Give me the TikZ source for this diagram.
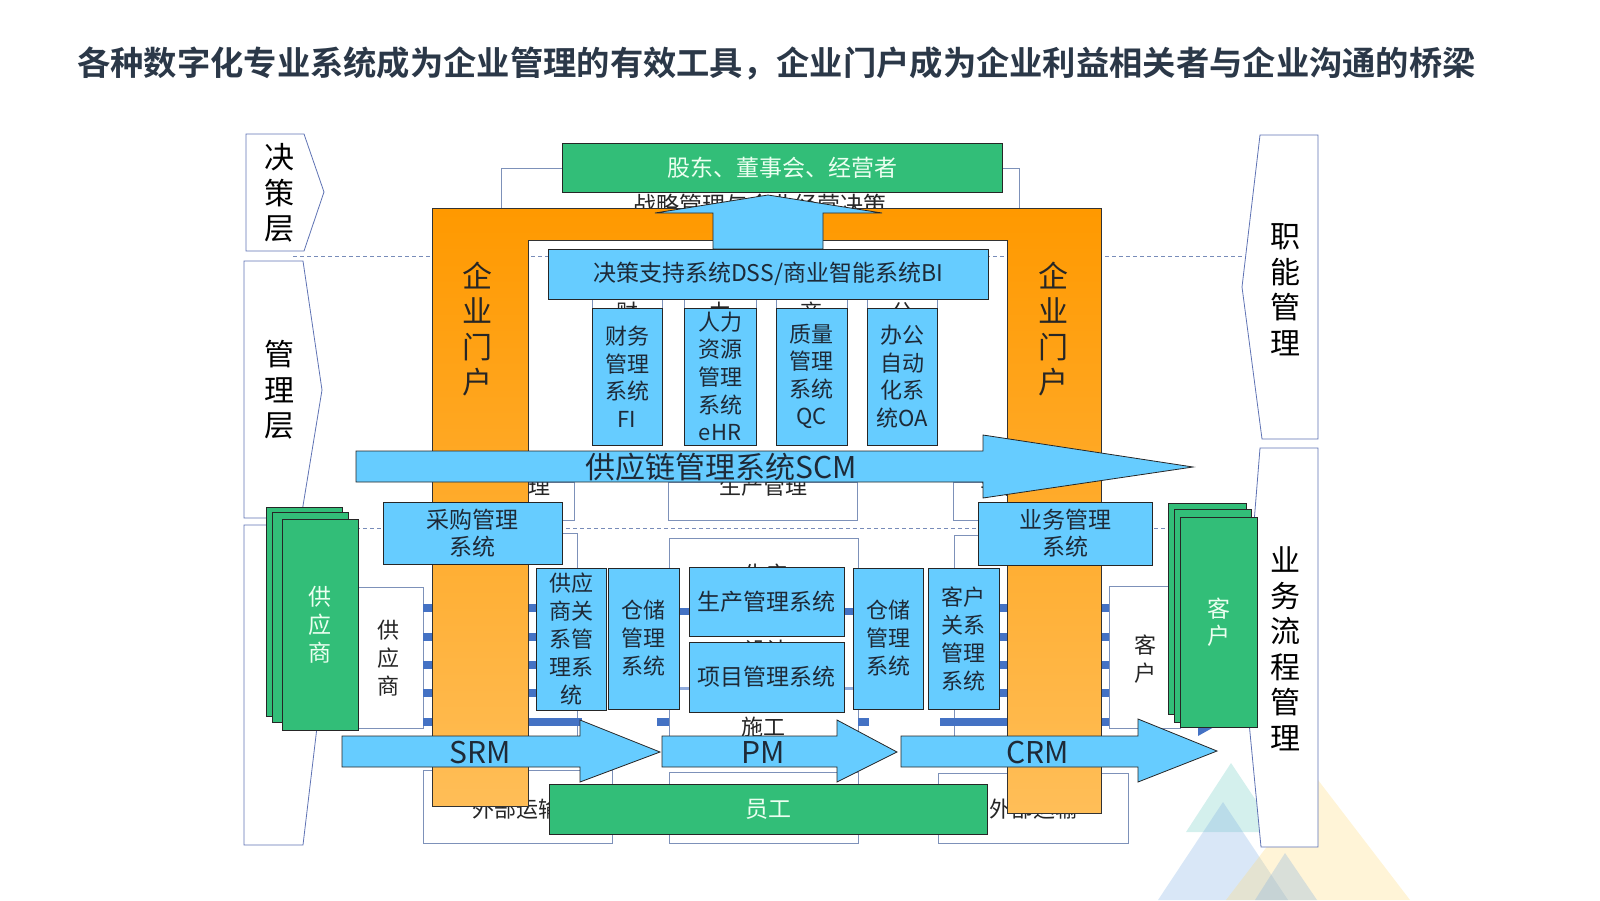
\documentclass[tikz,border=0pt]{standalone}
\usepackage{fontspec}
\setmainfont{Noto Sans CJK SC}
\newfontfamily\titlefont{Noto Sans CJK SC Bold}
\newcommand\fsz[2]{\fontsize{#1}{#2}\selectfont}
\definecolor{sysblue}{RGB}{102,204,255}
\definecolor{grn}{RGB}{50,190,120}
\definecolor{grntext}{RGB}{235,255,240}
\definecolor{txtdark}{RGB}{30,42,56}
\definecolor{bgline}{RGB}{125,145,185}
\definecolor{pentline}{RGB}{95,115,180}
\definecolor{dashc}{RGB}{120,140,185}
\definecolor{markblue}{RGB}{68,114,196}
\definecolor{marklight}{RGB}{143,170,220}
\definecolor{orgtop}{RGB}{255,153,0}
\definecolor{orgbot}{RGB}{255,190,88}
\definecolor{titlec}{RGB}{43,56,72}
\definecolor{tritealc}{RGB}{100,200,190}
\definecolor{tribluec}{RGB}{120,170,225}
\definecolor{triyelc}{RGB}{255,215,110}
\begin{document}
\begin{tikzpicture}[x=1pt,y=-1pt,
  sysbox/.style={draw=black!85, line width=0.8pt, fill=sysblue, inner sep=0pt, outer sep=0pt, align=center, text=txtdark, font=\fsz{22}{28}},
  grnbox/.style={draw=black!85, line width=0.8pt, fill=grn, inner sep=0pt, outer sep=0pt, align=center, text=grntext, font=\fsz{23}{28}},
  bgbox/.style={draw=bgline, line width=0.7pt, fill=white},
  pent/.style={draw=pentline, line width=0.8pt, fill=white},
  barrow/.style={draw=black!85, line width=0.8pt, fill=sysblue},
  dashline/.style={draw=dashc, line width=0.7pt, dash pattern=on 4pt off 3pt},
  bluemark/.style={fill=markblue},
  sidelbl/.style={inner sep=0pt, align=center, text=black, font=\fsz{30}{35.5}},
  bgtxt/.style={inner sep=0pt, align=center, text=black!85, font=\fsz{22}{28}},
  arrtxt/.style={inner sep=0pt, text=txtdark, font=\fsz{30}{34}}
]
\useasboundingbox (0,0) rectangle (1600,900);

% decorative triangles
\fill[tritealc, opacity=0.28] (1231,763) -- (1277,832) -- (1186,832) -- cycle;
\fill[tribluec, opacity=0.28] (1223,802) -- (1288,900) -- (1158,900) -- cycle;
\fill[triyelc, opacity=0.28] (1318,780) -- (1410,900) -- (1226,900) -- cycle;
\fill[tribluec, opacity=0.28] (1285,853) -- (1317,900) -- (1255,900) -- cycle;

% title
\node[anchor=west, inner sep=0pt, text=titlec, font=\titlefont\fsz{33.3}{40}] (title) at (77,63)
  {各种数字化专业系统成为企业管理的有效工具，企业门户成为企业利益相关者与企业沟通的桥梁};

% side pentagons
\draw[pent] (246,134) -- (304,134) -- (324,192) -- (304,251) -- (246,251) -- cycle;
\draw[pent] (244,261) -- (303,261) -- (322,390) -- (301,518) -- (244,518) -- cycle;
\draw[pent] (244,525) -- (303,525) -- (322,685) -- (303,845) -- (244,845) -- cycle;
\draw[pent] (1260,135) -- (1318,135) -- (1318,439) -- (1262,439) -- (1242,287) -- cycle;
\draw[pent] (1260,448) -- (1318,448) -- (1318,847) -- (1261,847) -- (1243,660) -- cycle;
\node[sidelbl] (jcc) at (279,193) {决\\策\\层};
\node[sidelbl] (glc) at (279,390) {管\\理\\层};
\node[sidelbl] (znc) at (1285,290) {职\\能\\管\\理};
\node[sidelbl] (ywc) at (1285,649) {业\\务\\流\\程\\管\\理};

% dashed layer lines
\draw[dashline] (293,256) -- (1243,256);
\draw[dashline] (300,528) -- (1250,528);

% background boxes
\draw[bgbox] (501,168) rectangle (1019,235);
\node[bgtxt, font=\fsz{23}{28}] (zl) at (760,205) {战略管理与企业经营决策};
\draw[bgbox] (592,285) rectangle (662,440);
\draw[bgbox] (684,285) rectangle (756,440);
\draw[bgbox] (776,285) rectangle (847,440);
\draw[bgbox] (867,285) rectangle (937,440);
\node[bgtxt] (bg1) at (627,312) {财};
\node[bgtxt] (bg2) at (720,312) {力};
\node[bgtxt] (bg3) at (811,312) {商};
\node[bgtxt] (bg4) at (902,312) {公};

\draw[bgbox] (445,482) rectangle (574,520);
\draw[bgbox] (668,482) rectangle (857,520);
\draw[bgbox] (953,482) rectangle (1090,520);
\node[bgtxt] (cg) at (506,486) {采购管理};
\node[bgtxt] (scg) at (763,486) {生产管理};
\node[bgtxt] (xsg) at (1024,486) {销售管理};

\draw[bgbox] (450,533) rectangle (577,760);
\draw[bgbox] (669,538) rectangle (858,760);
\draw[bgbox] (954,535) rectangle (1095,760);
\node[bgtxt] (sc2) at (766,574) {生产};
\node[bgtxt] (sj) at (766,650) {设计};
\node[bgtxt] (sg) at (763,727) {施工};

\draw[bgbox] (423,770) rectangle (612,843);
\draw[bgbox] (669,772) rectangle (858,843);
\draw[bgbox] (938,773) rectangle (1128,843);
\node[bgtxt] (wb1) at (516,809) {外部运输};
\node[bgtxt] (wb2) at (1033,809) {外部运输};

% white supplier / customer boxes
\draw[bgbox] (358,587) rectangle (423,728);
\node[bgtxt] (gysw) at (388,658) {供\\应\\商};
\draw[bgbox] (1109,586) rectangle (1180,728);
\node[bgtxt] (khw) at (1145,659) {客\\户};

% thick blue marks
\foreach \yy in {608,637,665,693,722} {
  \fill[bluemark] (423,\yy-4) rectangle (432,\yy+4);
  \fill[bluemark] (528,\yy-4) rectangle (536,\yy+4);
  \fill[bluemark] (1100,\yy-4) rectangle (1109,\yy+4);
}
\foreach \yy in {608,637,665,693} {
  \fill[bluemark] (999,\yy-4) rectangle (1007,\yy+4);
}
\fill[bluemark] (528,718) rectangle (582,726);
\fill[bluemark] (657,718) rectangle (669,726);
\fill[bluemark] (858,718) rectangle (869,726);
\fill[bluemark] (940,718) rectangle (1007,726);
\fill[bluemark] (680,608) rectangle (689,615);
\fill[bluemark] (844,608) rectangle (853,615);
\fill[marklight] (680,687) rectangle (689,690);
\fill[marklight] (844,687) rectangle (853,690);
\fill[bluemark] (1198,727) -- (1214,727) -- (1198,736) -- cycle;

% orange portal frame
\shade[top color=orgtop, bottom color=orgbot, draw=black!80, line width=0.8pt]
  (432,208) -- (1101,208) -- (1101,813) -- (1007,813) -- (1007,240) -- (528,240)
  -- (528,806) -- (432,806) -- cycle;
\node[sidelbl, text=black!85] (mh1) at (477,329) {企\\业\\门\\户};
\node[sidelbl, text=black!85] (mh2) at (1053,329) {企\\业\\门\\户};

% top green box
\node[grnbox, minimum width=440pt, minimum height=49pt] (gd) at (782,167.5) {股东、董事会、经营者};

% up arrow
\draw[barrow] (713,249) -- (713,213) -- (655,213) -- (768,195) -- (882,213) -- (823,213) -- (823,249) -- cycle;

% DSS
\node[sysbox, font=\fsz{23}{28}, minimum width=440pt, minimum height=50pt] (dss) at (768,274) {决策支持系统DSS/商业智能系统BI};

% functional systems
\node[sysbox, minimum width=70pt, minimum height=137pt, font=\fsz{22}{27.5}] (fi) at (627,376.5) {财务\\管理\\系统\\FI};
\node[sysbox, minimum width=72pt, minimum height=137pt, font=\fsz{22}{27.7}] (ehr) at (720,376.5) {人力\\资源\\管理\\系统\\eHR};
\node[sysbox, minimum width=71pt, minimum height=137pt, font=\fsz{22}{27.5}] (qc) at (811.5,376.5) {质量\\管理\\系统\\QC};
\node[sysbox, minimum width=70pt, minimum height=137pt, font=\fsz{22}{27.5}] (oa) at (902,376.5) {办公\\自动\\化系\\统OA};

% SCM arrow
\draw[barrow] (356,451) -- (983,451) -- (983,435) -- (1193,467) -- (983,498) -- (983,482) -- (356,482) -- cycle;
\node[arrtxt] (scm) at (721,467) {供应链管理系统SCM};

% purchase / business management
\node[sysbox, font=\fsz{23}{27}, minimum width=179pt, minimum height=62pt] (cgxt) at (472.5,533) {采购管理\\系统};
\node[sysbox, font=\fsz{23}{27}, minimum width=174pt, minimum height=63pt] (ywxt) at (1065,533.5) {业务管理\\系统};

% lower systems
\node[sysbox, minimum width=70pt, minimum height=142pt, font=\fsz{22}{27.8}] (srmx) at (571,639) {供应\\商关\\系管\\理系\\统};
\node[sysbox, minimum width=71pt, minimum height=141pt] (cc1) at (643.5,638.5) {仓储\\管理\\系统};
\node[sysbox, font=\fsz{23}{28}, minimum width=155pt, minimum height=69pt] (scxt) at (766.5,601.5) {生产管理系统};
\node[sysbox, font=\fsz{23}{28}, minimum width=155pt, minimum height=70pt] (xmxt) at (766.5,677) {项目管理系统};
\node[sysbox, minimum width=70pt, minimum height=141pt] (cc2) at (888,638.5) {仓储\\管理\\系统};
\node[sysbox, minimum width=71pt, minimum height=141pt] (khxt) at (963.5,638.5) {客户\\关系\\管理\\系统};

% supplier stack
\draw[draw=black!85, line width=0.8pt, fill=grn] (266,507) rectangle (342,716);
\draw[draw=black!85, line width=0.8pt, fill=grn] (272,512) rectangle (348,722);
\node[grnbox, font=\fsz{23}{28}, minimum width=76pt, minimum height=211pt] (gys) at (320,624.5) {供\\应\\商};

% customer stack
\draw[draw=black!85, line width=0.8pt, fill=grn] (1168,503) rectangle (1246,714);
\draw[draw=black!85, line width=0.8pt, fill=grn] (1174,509) rectangle (1251,722);
\node[grnbox, font=\fsz{23}{27}, minimum width=77pt, minimum height=210pt] (kh) at (1218.5,622) {客\\户};

% SRM / PM / CRM arrows
\draw[barrow] (342,736) -- (580,736) -- (580,720) -- (660,752) -- (580,782) -- (580,767) -- (342,767) -- cycle;
\draw[barrow] (662,736) -- (837,736) -- (837,720) -- (897,752) -- (837,782) -- (837,767) -- (662,767) -- cycle;
\draw[barrow] (901,736) -- (1138,736) -- (1138,719) -- (1217,751) -- (1138,782) -- (1138,767) -- (901,767) -- cycle;
\node[arrtxt] (srm) at (480,752) {SRM};
\node[arrtxt] (pm) at (763,752) {PM};
\node[arrtxt] (crm) at (1038,752) {CRM};

% staff
\node[grnbox, minimum width=438pt, minimum height=50pt] (yg) at (768,809) {员工};

\end{tikzpicture}
\end{document}
